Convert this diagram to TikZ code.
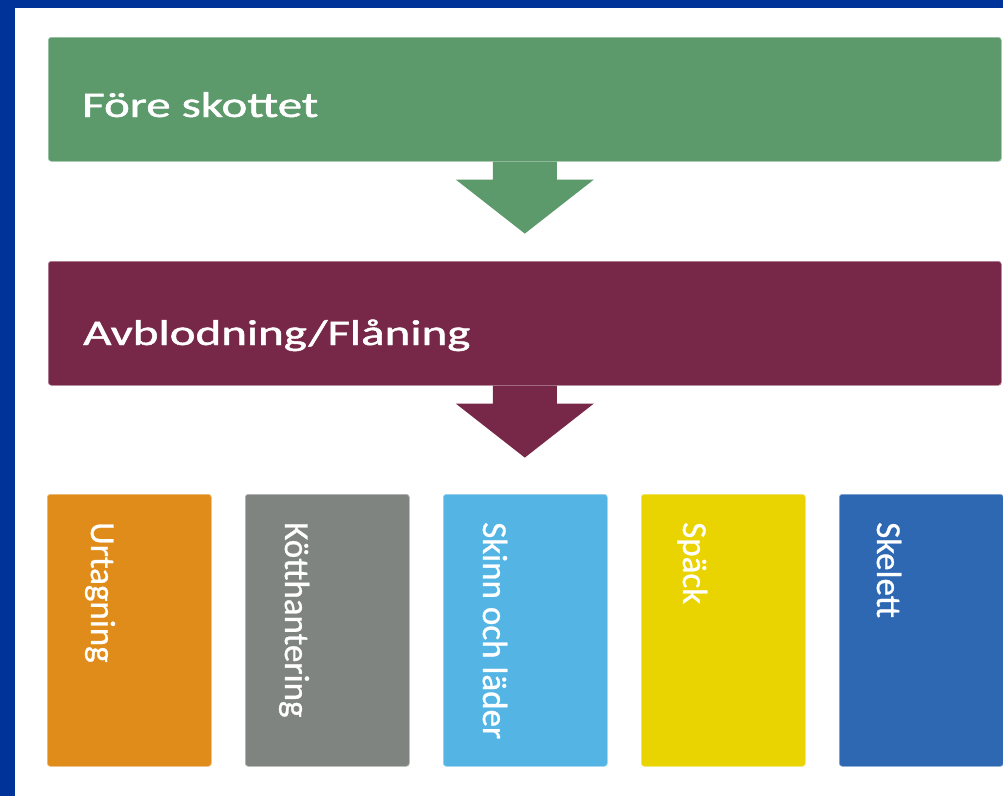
\documentclass[tikz,border=0pt]{standalone}
\usepackage{fontspec}
\setmainfont{Carlito}
\newfontfamily\semib[FakeBold=1.2]{Carlito}
\newfontfamily\semiv[FakeBold=0.8]{Carlito}
\usetikzlibrary{calc}
\definecolor{bgblue}{HTML}{003399}
\definecolor{cgreen}{HTML}{5C996B}
\definecolor{cmaroon}{HTML}{772848}
\definecolor{corange}{HTML}{E08C1A}
\definecolor{cgrey}{HTML}{7F8481}
\definecolor{clblue}{HTML}{54B5E4}
\definecolor{cyellow}{HTML}{E9D300}
\definecolor{cblue}{HTML}{2F68B2}
\tikzset{
  bar/.style={fill=#1, draw=#1!60!white, line width=0.6pt, rounded corners=3pt,
    minimum width=953pt, minimum height=124pt, inner sep=0pt, anchor=north west},
  col/.style={fill=#1, draw=#1!60!white, line width=0.6pt, rounded corners=3pt,
    minimum width=164pt, minimum height=272pt, inner sep=0pt, anchor=north west},
  htext/.style={text=white, inner sep=0pt, anchor=base west,
    font=\semib\fontsize{36}{40}\selectfont},
  vtext/.style={text=white, inner sep=0pt, anchor=base west, rotate=-90,
    font=\semiv\fontsize{35}{40}\selectfont},
}
\newcommand{\wide}[1]{\scalebox{1.36}[1]{#1}}
\begin{document}
\begin{tikzpicture}[x=1pt,y=-1pt]
\useasboundingbox (0,0) rectangle (1003,796);
\fill[bgblue] (0,0) rectangle (1003,796);
\fill[white] (15,8) rectangle (1003,796);
% top bars
\node[bar=cgreen] (fore) at (48,37) {};
\node[bar=cmaroon] (avb) at (48,261) {};
\node[htext] (foret) at (82,117) {\wide{Före skottet}};
\node[htext] (avbt) at (83,345) {\wide{Avblodning/Flåning}};
% arrows
\fill[cgreen] ([xshift=-32pt]fore.south) -- ++(0,18) -- ++(-37,0) -- ($(fore.south)+(0,72)$)
  -- ($(fore.south)+(69,18)$) -- ++(-37,0) -- ([xshift=32pt]fore.south) -- cycle;
\fill[cmaroon] ([xshift=-32pt]avb.south) -- ++(0,18) -- ++(-37,0) -- ($(avb.south)+(0,72)$)
  -- ($(avb.south)+(69,18)$) -- ++(-37,0) -- ([xshift=32pt]avb.south) -- cycle;
% columns
\node[col=corange] (c1) at (47,494) {};
\node[col=cgrey]   (c2) at (245,494) {};
\node[col=clblue]  (c3) at (443,494) {};
\node[col=cyellow] (c4) at (641,494) {};
\node[col=cblue]   (c5) at (839,494) {};
\node[vtext] (t1) at ($(c1.north west)+(44,28)$) {Urtagning};
\node[vtext] (t2) at ($(c2.north west)+(40,28)$) {Kötthantering};
\node[vtext] (t3) at ($(c3.north west)+(40,28)$) {Skinn och läder};
\node[vtext] (t4) at ($(c4.north west)+(42,28)$) {Späck};
\node[vtext] (t5) at ($(c5.north west)+(38,28)$) {Skelett};
\end{tikzpicture}
\end{document}
